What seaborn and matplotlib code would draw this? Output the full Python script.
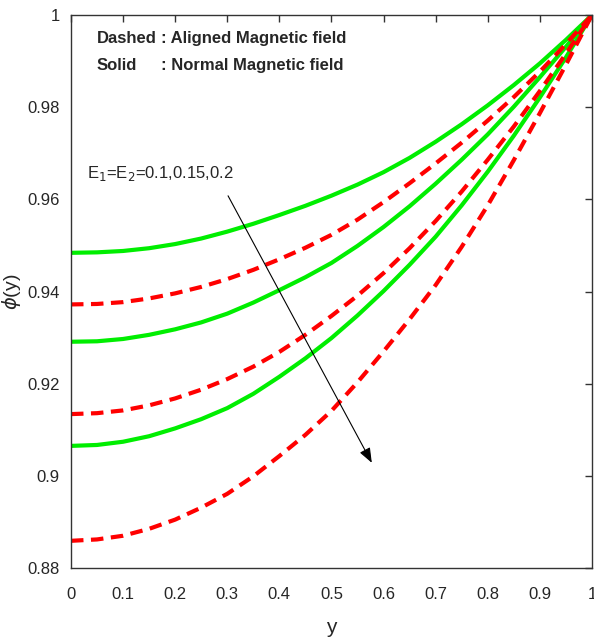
"""
phi(y) profiles for aligned vs normal magnetic field
"""

import matplotlib
matplotlib.use("Agg")
import matplotlib.pyplot as plt
import seaborn as sns
import pandas as pd

y_pts = [0.0, 0.05, 0.1, 0.15, 0.2, 0.25, 0.3, 0.35, 0.4, 0.45, 0.5,
         0.55, 0.6, 0.65, 0.7, 0.75, 0.8, 0.85, 0.9, 0.95, 1.0]

# solid = normal magnetic field, dashed = aligned, for E1=E2=0.1, 0.15, 0.2
normal_01 = [0.9484, 0.9485, 0.9488, 0.9494, 0.9503, 0.9515, 0.9530, 0.9547, 0.9566, 0.9586, 0.9608,
             0.9632, 0.9659, 0.9690, 0.9725, 0.9763, 0.9804, 0.9848, 0.9895, 0.9946, 1.0]
normal_015 = [0.9291, 0.9292, 0.9297, 0.9306, 0.9318, 0.9333, 0.9352, 0.9376, 0.9403, 0.9431, 0.9462,
              0.9499, 0.9540, 0.9585, 0.9634, 0.9686, 0.9741, 0.9801, 0.9865, 0.9931, 1.0]
normal_02 = [0.9065, 0.9067, 0.9074, 0.9086, 0.9103, 0.9123, 0.9147, 0.9178, 0.9215, 0.9255, 0.9299,
             0.9348, 0.9401, 0.9458, 0.9519, 0.9587, 0.9660, 0.9738, 0.9821, 0.9908, 1.0]
aligned_01 = [0.9372, 0.9373, 0.9377, 0.9385, 0.9396, 0.9410, 0.9427, 0.9447, 0.9470, 0.9495, 0.9523,
              0.9556, 0.9594, 0.9635, 0.9678, 0.9723, 0.9771, 0.9822, 0.9877, 0.9937, 1.0]
aligned_015 = [0.9134, 0.9136, 0.9142, 0.9153, 0.9168, 0.9187, 0.9210, 0.9237, 0.9269, 0.9306, 0.9347,
               0.9391, 0.9440, 0.9494, 0.9553, 0.9617, 0.9686, 0.9758, 0.9835, 0.9916, 1.0]
aligned_02 = [0.8859, 0.8862, 0.8870, 0.8885, 0.8905, 0.8931, 0.8961, 0.8999, 0.9043, 0.9089, 0.9141,
              0.9203, 0.9270, 0.9340, 0.9414, 0.9497, 0.9587, 0.9685, 0.9787, 0.9892, 1.0]

xticks = [0, 0.1, 0.2, 0.3, 0.4, 0.5, 0.6, 0.7, 0.8, 0.9, 1]
xticklabels = ["0", "0.1", "0.2", "0.3", "0.4", "0.5", "0.6", "0.7", "0.8", "0.9", "1"]
yticks = [0.88, 0.90, 0.92, 0.94, 0.96, 0.98, 1.0]
yticklabels = ["0.88", "0.9", "0.92", "0.94", "0.96", "0.98", "1"]


def main():
    sns.set_style("white")
    plt.rcParams["font.family"] = ["Liberation Sans", "DejaVu Sans"]
    plt.rcParams["mathtext.fontset"] = "dejavusans"

    fig = plt.figure(figsize=(5.94, 6.4), dpi=100)
    ax = fig.add_axes([0.1195, 0.1125, 0.877, 0.864])

    for vals in [normal_01, normal_015, normal_02]:
        df = pd.DataFrame({"y": y_pts, "phi": vals})
        sns.lineplot(df, x="y", y="phi", ax=ax, color="#00ee00", lw=3.0)
    for vals in [aligned_01, aligned_015, aligned_02]:
        df = pd.DataFrame({"y": y_pts, "phi": vals})
        sns.lineplot(df, x="y", y="phi", ax=ax, color="#ff0000", lw=3.0,
                     linestyle=(0, (3.0, 1.8)))

    ax.set_xlim(0, 1)
    ax.set_ylim(0.88, 1.0)
    ax.set_xticks(xticks, xticklabels)
    ax.set_yticks(yticks, yticklabels)
    ax.tick_params(direction="in", length=5, width=1, color="#333333",
                   labelsize=12, top=True, right=True, pad=8)
    ax.tick_params(axis="x", pad=14)
    for sp in ax.spines.values():
        sp.set_visible(True)
        sp.set_color("#333333")
        sp.set_linewidth(1)

    ax.set_xlabel("y", fontsize=15, labelpad=11)
    ax.set_ylabel(r"$\phi$(y)", fontsize=14)
    ax.yaxis.set_label_coords(-0.092, 0.5)

    ax.text(0.05, 0.9950, "Dashed", fontsize=12, fontweight="bold", va="center")
    ax.text(0.172, 0.9950, ": Aligned Magnetic field", fontsize=12, fontweight="bold", va="center")
    ax.text(0.05, 0.9891, "Solid", fontsize=12, fontweight="bold", va="center")
    ax.text(0.172, 0.9891, ": Normal Magnetic field", fontsize=12, fontweight="bold", va="center")

    ax.text(0.03, 0.9657, r"E$_1$=E$_2$=0.1,0.15,0.2", fontsize=12, va="center")
    ax.annotate("", xy=(0.580, 0.9023), xytext=(0.299, 0.9613),
                arrowprops=dict(arrowstyle="-|>,head_length=0.9,head_width=0.35",
                                color="black", lw=0.8))

    fig.savefig("out.png", dpi=100)


main()
